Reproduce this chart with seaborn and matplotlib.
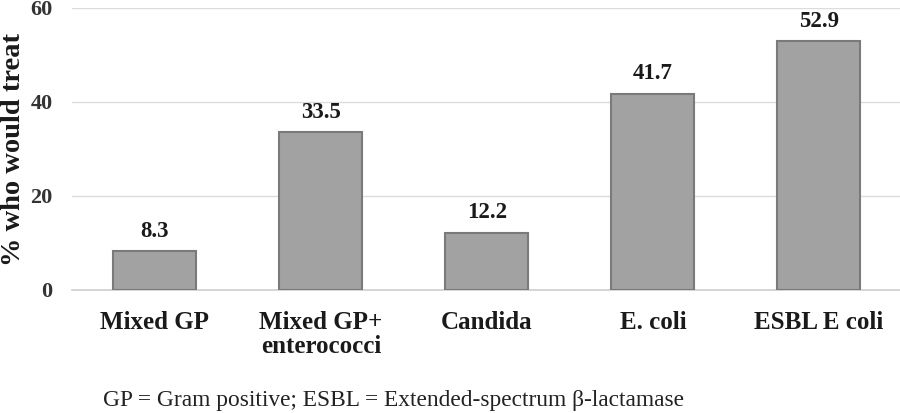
import matplotlib
matplotlib.use("Agg")
import matplotlib.pyplot as plt
import seaborn as sns
import pandas as pd

# Data
categories = ["Mixed GP", "Mixed GP+\nenterococci", "Candida", "E. coli", "ESBL E coli"]
pct_treat = [8.3, 33.5, 12.2, 41.7, 52.9]
y_ticks = [0, 20, 40, 60]
footnote = "GP = Gram positive; ESBL = Extended-spectrum \u03b2-lactamase"

df = pd.DataFrame({"organism": categories, "pct": pct_treat})

sns.set_theme(style="white")
plt.rcParams["font.family"] = ["Liberation Serif", "DejaVu Serif"]

fig = plt.figure(figsize=(9, 4.13), dpi=100)
ax = fig.add_axes([0.08, 0.298, 0.922, 0.683])

sns.barplot(data=df, x="organism", y="pct", color="#a2a2a2", width=0.5,
            edgecolor="#7a7a7a", linewidth=1.5, saturation=1, ax=ax, zorder=3)

for i, v in enumerate(pct_treat):
    ax.text(i, v + 2.0, f"{v:.1f}", ha="center", va="bottom",
            fontsize=16.5, fontweight="bold", color="#1a1a1a")

ax.set_ylim(0, 60)
ax.set_yticks(y_ticks)
ax.set_yticklabels([str(t) for t in y_ticks], fontsize=16, fontweight="bold", color="#333333")
ax.set_xticks(range(len(categories)))
ax.set_xticklabels(categories, fontsize=18, fontweight="bold", color="#1a1a1a",
                   linespacing=1.05)
ax.tick_params(axis="x", length=0, pad=15)
ax.tick_params(axis="y", length=0, pad=14)
ax.yaxis.grid(True, color="#dcdcdc", linewidth=1, zorder=0)
for s in ["top", "right", "left"]:
    ax.spines[s].set_visible(False)
ax.spines["bottom"].set_color("#d0d0d0")
ax.set_xlabel("")
ax.set_ylabel("")

fig.text(0.015, 0.637, "% who would treat", rotation=90, fontsize=20.5,
         fontweight="bold", color="#1a1a1a", ha="center", va="center")

fig.text(0.114, 0.031, footnote, fontsize=16.8, color="#222222", ha="left", va="center")

fig.savefig("out.png", dpi=100)
